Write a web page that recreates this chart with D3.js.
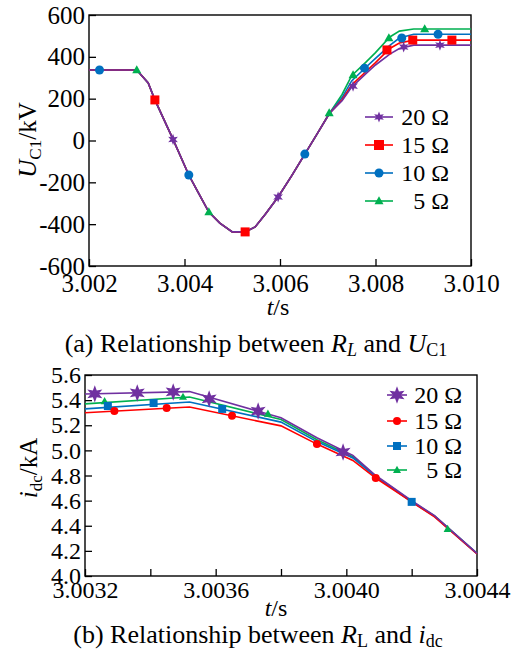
<!DOCTYPE html>
<html>
<head>
<meta charset="utf-8">
<script src="https://cdn.jsdelivr.net/npm/d3@7"></script>
<style>
  body { margin: 0; background: #fff; }
</style>
</head>
<body>
<svg id="chart" width="516" height="661"></svg>
<script>
// ---- DATA ----
const seriesNames = ["20 Ω", "15 Ω", "10 Ω", " 5 Ω"];
const seriesColors = ["#7030A0", "#FF0000", "#0070C0", "#00B050"];
const seriesSymbols = ["star", "square", "circle", "triangle"];
const seriesSymbolsB = ["star", "circle", "square", "triangle"];

// (a) U_C1 vs t
const timesA = [3.0020, 3.0030, 3.00324, 3.00338, 3.00376, 3.00409, 3.00428, 3.00451, 3.00474, 3.00500,
  3.00527, 3.00548, 3.00570, 3.00596, 3.00625, 3.00652, 3.00680, 3.00703,
  3.0073, 3.0075, 3.0078, 3.0080, 3.0083, 3.0085, 3.0088, 3.0100];
const sharedA = [337, 337, 275, 194, 5, -165, -246, -342, -395, -437,
  -437, -413, -350, -270, -167, -65, 40, 128];
const u20 = [190, 255, 320, 361, 413, 440, 456, 456];
const u15 = [195, 265, 330, 372, 440, 466, 480, 480];
const u10 = [205, 285, 350, 393, 455, 490, 508, 508];
const u5  = [220, 310, 375, 420, 495, 523, 533, 533];

const mk20A = [[3.00376, 5], [3.00596, -270], [3.00753, 260], [3.00859, 447], [3.00935, 456]];
const mk15A = [[3.00338, 194], [3.00527, -437], [3.00824, 433], [3.00878, 480], [3.0096, 480]];
const mk10A = [[3.00222, 337], [3.00409, -165], [3.00652, -65], [3.00777, 346], [3.00855, 490], [3.00931, 508]];
const mk5A  = [[3.00300, 337], [3.00451, -342], [3.00703, 131], [3.00753, 313], [3.00828, 490], [3.00903, 533]];

const xTicksA = [3.002, 3.004, 3.006, 3.008, 3.010];
const yTicksA = [-600, -400, -200, 0, 200, 400, 600];

// (b) i_dc vs t
const timesB = [3.0032, 3.00352, 3.00380, 3.00391, 3.00402, 3.00409, 3.00420, 3.00427, 3.00440];
const i20 = [5.449, 5.468, 5.26, 5.10, 4.96, 4.80, 4.60, 4.48, 4.18];
const i15 = [5.300, 5.345, 5.195, 5.05, 4.92, 4.78, 4.59, 4.47, 4.175];
const i10 = [5.330, 5.385, 5.225, 5.07, 4.94, 4.79, 4.59, 4.475, 4.178];
const i5  = [5.370, 5.425, 5.245, 5.085, 4.95, 4.795, 4.595, 4.478, 4.18];

const mk20B = [[3.00323, 5.45], [3.00336, 5.457], [3.00347, 5.465], [3.00358, 5.41], [3.00373, 5.313], [3.00399, 4.987]];
const mk15B = [[3.00329, 5.313], [3.00345, 5.337], [3.00365, 5.275], [3.00391, 5.05], [3.00409, 4.78]];
const mk10B = [[3.00327, 5.353], [3.00341, 5.377], [3.00362, 5.33], [3.0042, 4.59]];
const mk5B  = [[3.00326, 5.39], [3.0035, 5.425], [3.00376, 5.29], [3.00431, 4.374]];

const xTicksB = [3.0032, 3.0034, 3.0036, 3.0038, 3.0040, 3.0042, 3.0044];
const xLabelsB = [3.0032, 3.0036, 3.0040, 3.0044];
const yTicksB = [4.0, 4.2, 4.4, 4.6, 4.8, 5.0, 5.2, 5.4, 5.6];

// ---- helpers ----
const FONT = "Liberation Serif";
const svg = d3.select("#chart");

function addText(x, y, size) {
  return svg.append("text").attr("x", x).attr("y", y)
    .attr("font-family", FONT).attr("font-size", size).attr("fill", "#000");
}

function starPath(r) {
  let pts = [];
  for (let i = 0; i < 12; i++) {
    let a = -Math.PI / 2 + i * Math.PI / 6;
    let rr = i % 2 === 0 ? r : r * 0.45;
    pts.push([rr * Math.cos(a), rr * Math.sin(a)]);
  }
  return "M" + pts.map(p => p.join(",")).join("L") + "Z";
}

function drawMarker(g, type, color, x, y, size) {
  if (type === "star") {
    g.append("path").attr("d", starPath(size * 0.62))
      .attr("transform", `translate(${x},${y})`).attr("fill", color);
  } else if (type === "square") {
    g.append("rect").attr("x", x - size / 2).attr("y", y - size / 2)
      .attr("width", size).attr("height", size).attr("fill", color);
  } else if (type === "circle") {
    g.append("circle").attr("cx", x).attr("cy", y).attr("r", size / 2).attr("fill", color);
  } else {
    let h = size * 0.9;
    g.append("path").attr("d", `M${x},${y - h * 0.6}L${x + size / 2},${y + h * 0.4}L${x - size / 2},${y + h * 0.4}Z`)
      .attr("fill", color);
  }
}

function drawFrame(x, y, tickFontSize, xTicks, xFmt, yTicks, yFmt, xPad) {
  const [x0, x1] = x.range();
  const [y0, y1] = y.range();

  svg.append("g")
    .attr("transform", `translate(0,${y0})`)
    .call(d3.axisBottom(x).tickValues(xTicks).tickFormat(xFmt).tickSizeInner(-7).tickSizeOuter(0).tickPadding(xPad))
    .call(g => g.select(".domain").remove())
    .call(g => g.selectAll("line").attr("stroke-width", 1.3))
    .call(g => g.selectAll("text").attr("font-family", FONT).attr("font-size", tickFontSize).attr("dy", "0.75em"));

  svg.append("g")
    .attr("transform", `translate(${x0},0)`)
    .call(d3.axisLeft(y).tickValues(yTicks).tickFormat(yFmt).tickSizeInner(-7).tickSizeOuter(0).tickPadding(4))
    .call(g => g.select(".domain").remove())
    .call(g => g.selectAll("line").attr("stroke-width", 1.3))
    .call(g => g.selectAll("text").attr("font-family", FONT).attr("font-size", tickFontSize));

  svg.append("rect")
    .attr("x", x0).attr("y", y1)
    .attr("width", x1 - x0).attr("height", y0 - y1)
    .attr("fill", "none").attr("stroke", "#000").attr("stroke-width", 1.4);
}

function drawSeries(x, y, times, valueSets, markerSets, symbols, sizes) {
  const line = d3.line().x(d => x(d[0])).y(d => y(d[1]));
  const order = [3, 2, 1, 0];
  order.forEach(i => {
    const pts = times.map((t, j) => [t, valueSets[i][j]]);
    svg.append("path").attr("d", line(pts))
      .attr("fill", "none").attr("stroke", seriesColors[i]).attr("stroke-width", 1.6);
  });
  order.forEach(i => {
    const g = svg.append("g");
    markerSets[i].forEach(m => drawMarker(g, symbols[i], seriesColors[i], x(m[0]), y(m[1]), sizes[i]));
  });
}

function drawLegend(rows, x0, x1, textEnd, fontSize, symbols, sizes) {
  rows.forEach((ry, i) => {
    const g = svg.append("g");
    g.append("line").attr("x1", x0).attr("x2", x1).attr("y1", ry).attr("y2", ry)
      .attr("stroke", seriesColors[i]).attr("stroke-width", 1.6);
    drawMarker(g, symbols[i], seriesColors[i], (x0 + x1) / 2, ry, sizes[i]);
    addText(textEnd, ry + 8, fontSize)
      .attr("text-anchor", "end")
      .style("white-space", "pre").text(seriesNames[i]);
  });
}

// ---- (a) ----
const xA = d3.scaleLinear().domain([3.002, 3.010]).range([89, 471]);
const yA = d3.scaleLinear().domain([-600, 600]).range([266, 15]);
const valsA = [u20, u15, u10, u5].map(tail => sharedA.concat(tail));

drawFrame(xA, yA, 25, xTicksA, d3.format(".3f"), yTicksA, d => String(d), 7);
drawSeries(xA, yA, timesA, valsA, [mk20A, mk15A, mk10A, mk5A], seriesSymbols, [9, 9, 9, 9]);
drawLegend([117, 145, 173, 201], 365, 393, 449, 24, seriesSymbols, [9, 10, 9, 9]);

const ylabA = addText(0, 0, 25)
  .attr("transform", "translate(36,140) rotate(-90)")
  .attr("text-anchor", "middle");
ylabA.append("tspan").attr("font-style", "italic").text("U");
ylabA.append("tspan").attr("font-size", 17).attr("dy", 5).text("C1");
ylabA.append("tspan").attr("dy", -5).text("/kV");

const xlabA = addText(278, 315, 24).attr("text-anchor", "middle");
xlabA.append("tspan").attr("font-style", "italic").text("t");
xlabA.append("tspan").text("/s");

const capA = addText(256, 352, 26).attr("text-anchor", "middle");
capA.append("tspan").text("(a) Relationship between ");
capA.append("tspan").attr("font-style", "italic").text("R");
capA.append("tspan").attr("font-style", "italic").attr("font-size", 18).attr("dy", 4).text("L");
capA.append("tspan").attr("dy", -4).text(" and ");
capA.append("tspan").attr("font-style", "italic").text("U");
capA.append("tspan").attr("font-size", 18).attr("dy", 4).text("C1");

// ---- (b) ----
const xB = d3.scaleLinear().domain([3.0032, 3.0044]).range([85, 477]);
const yB = d3.scaleLinear().domain([4.0, 5.6]).range([576, 375]);
const valsB = [i20, i15, i10, i5];

const fmtB = d => xLabelsB.some(v => Math.abs(v - d) < 1e-7) ? d3.format(".4f")(d) : "";
drawFrame(xB, yB, 24, xTicksB, fmtB, yTicksB, d3.format(".1f"), 4);
drawSeries(xB, yB, timesB, valsB, [mk20B, mk15B, mk10B, mk5B], seriesSymbolsB, [14, 8, 8, 8]);
drawLegend([395, 421, 446, 470], 387, 407, 462, 24, seriesSymbolsB, [14, 8, 8, 8]);

const ylabB = addText(0, 0, 25)
  .attr("transform", "translate(37,468) rotate(-90)")
  .attr("text-anchor", "middle");
ylabB.append("tspan").attr("font-style", "italic").text("i");
ylabB.append("tspan").attr("font-size", 17).attr("dy", 5).text("dc");
ylabB.append("tspan").attr("dy", -5).text("/kA");

const xlabB = addText(276, 616, 24).attr("text-anchor", "middle");
xlabB.append("tspan").attr("font-style", "italic").text("t");
xlabB.append("tspan").text("/s");

const capB = addText(258, 643, 26).attr("text-anchor", "middle");
capB.append("tspan").text("(b) Relationship between ");
capB.append("tspan").attr("font-style", "italic").text("R");
capB.append("tspan").attr("font-size", 18).attr("dy", 4).text("L");
capB.append("tspan").attr("dy", -4).text(" and ");
capB.append("tspan").attr("font-style", "italic").text("i");
capB.append("tspan").attr("font-size", 18).attr("dy", 4).text("dc");
</script>
</body>
</html>
